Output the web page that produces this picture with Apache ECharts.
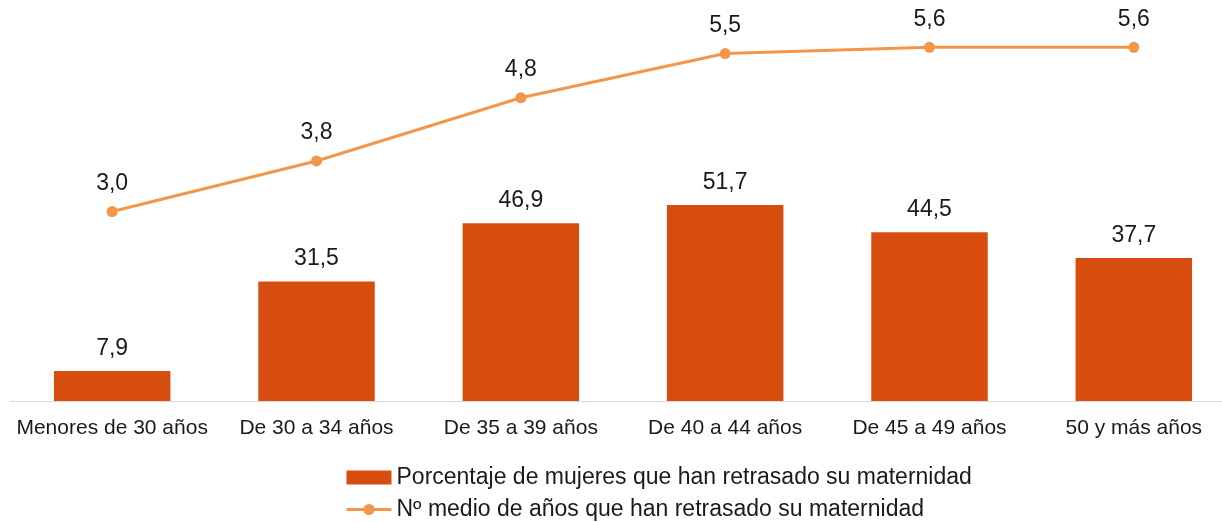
<!DOCTYPE html>
<html>
<head>
<meta charset="utf-8">
<script src="https://cdn.jsdelivr.net/npm/echarts@6/dist/echarts.min.js"></script>
<style>
  html, body { margin: 0; padding: 0; background: #fff; }
  #chart { width: 1222px; height: 522px; }
</style>
</head>
<body>
<div id="chart"></div>
<script>
// categorías y series
var categorias = ['Menores de 30 años', 'De 30 a 34 años', 'De 35 a 39 años',
                  'De 40 a 44 años', 'De 45 a 49 años', '50 y más años'];
var porcentaje = [7.9, 31.5, 46.9, 51.7, 44.5, 37.7];
var mediaAnios = [3.0, 3.8, 4.8, 5.5, 5.6, 5.6];

var nombreBarras = 'Porcentaje de mujeres que han retrasado su maternidad';
var nombreLinea = 'Nº medio de años que han retrasado su maternidad';

function coma(p) {
    return p.value.toFixed(1).replace('.', ',');
}

var myChart = echarts.init(document.getElementById('chart'));

var option = {
    animation: false,
    textStyle: { fontFamily: 'Liberation Sans, Arial, sans-serif' },
    grid: { left: 10, top: 22, width: 1226, bottom: 121, outerBoundsMode: 'none', containLabel: false },
    legend: {
        orient: 'vertical',
        left: 345,
        top: 466,
        padding: 0,
        itemWidth: 45,
        itemHeight: 14,
        itemGap: 9,
        lineStyle: { width: 3 },
        textStyle: { fontSize: 23, color: '#1a1a1a' },
        data: [{ name: nombreBarras, icon: 'rect' }, nombreLinea]
    },
    xAxis: {
        type: 'category',
        data: categorias,
        axisLine: { lineStyle: { color: '#d9d9d9', width: 1 } },
        axisTick: { show: false },
        axisLabel: { fontSize: 21, color: '#1a1a1a', margin: 17, interval: 0 }
    },
    yAxis: [
        { type: 'value', min: 0, max: 100, show: false, splitLine: { show: false } },
        { type: 'value', min: 0, max: 6, show: false, splitLine: { show: false } }
    ],
    series: [
        {
            name: nombreBarras,
            type: 'bar',
            data: porcentaje,
            barWidth: '57%',
            itemStyle: { color: '#D74C0F' },
            label: {
                show: true,
                position: 'top',
                distance: 11,
                fontSize: 23,
                color: '#1a1a1a',
                formatter: coma
            }
        },
        {
            name: nombreLinea,
            type: 'line',
            yAxisIndex: 1,
            data: mediaAnios,
            symbol: 'circle',
            symbolSize: 11,
            lineStyle: { color: '#F2974A', width: 3 },
            itemStyle: { color: '#F2974A' },
            label: {
                show: true,
                position: 'top',
                distance: 11,
                fontSize: 23,
                color: '#1a1a1a',
                formatter: coma
            }
        }
    ]
};

myChart.setOption(option);
</script>
</body>
</html>
